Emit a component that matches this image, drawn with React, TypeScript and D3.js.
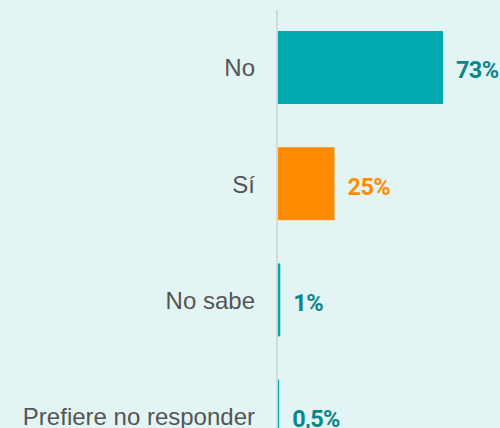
import React from "react";
import * as d3 from "d3";

const categories = ["No", "Sí", "No sabe", "Prefiere no responder"];
const values = [73, 25, 1, 0.5];
const valueLabels = ["73%", "25%", "1%", "0,5%"];
const barColors = ["#00A9AD", "#FF8C00", "#00A9AD", "#00A9AD"];
const labelColors = ["#0A878A", "#FF8C00", "#0A878A", "#0A878A"];

const W = 500;
const H = 428;

export default function App() {
  const x = d3.scaleLinear().domain([0, 100]).range([278, 278 + 226]);
  const y = d3
    .scaleBand<string>()
    .domain(categories)
    .range([9.4, 474.2])
    .paddingInner(0.372)
    .paddingOuter(0.186);

  return (
    <svg
      width={W}
      height={H}
      style={{ position: "absolute", left: 0, top: 0, display: "block" }}
    >
      <rect x={0} y={0} width={W} height={H} fill="#E3F4F4" />
      <line x1={277} x2={277} y1={10} y2={H} stroke="#D6D6D6" strokeWidth={1.8} />
      {categories.map((c, i) => {
        const y0 = y(c)!;
        const bw = y.bandwidth();
        const cy = y0 + bw / 2;
        const xe = x(values[i]);
        return (
          <g key={c}>
            <rect x={x(0)} y={y0} width={xe - x(0)} height={bw} fill={barColors[i]} />
            <text
              x={255}
              y={cy + 8.8}
              textAnchor="end"
              fontFamily="'Liberation Sans', Arial, sans-serif"
              fontSize={24}
              fill="#555555"
            >
              {c}
            </text>
            <text
              x={xe + 13}
              y={cy + 10.8}
              fontFamily="Roboto, sans-serif"
              fontWeight={700}
              fontSize={23.5}
              letterSpacing={-0.6}
              fill={labelColors[i]}
            >
              {valueLabels[i]}
            </text>
          </g>
        );
      })}
    </svg>
  );
}
